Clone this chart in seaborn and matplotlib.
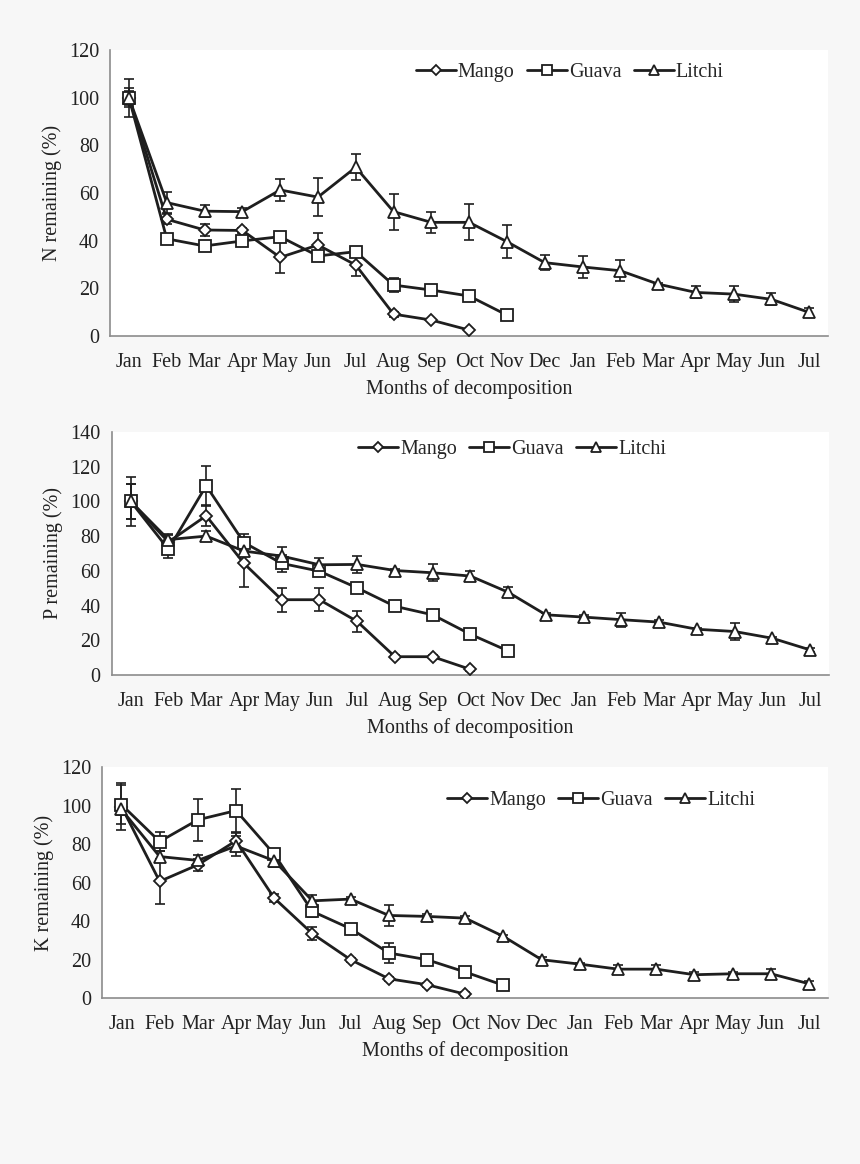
import numpy as np
import pandas as pd
import seaborn as sns
import matplotlib.pyplot as plt
from matplotlib.lines import Line2D

months = ["Jan", "Feb", "Mar", "Apr", "May", "Jun", "Jul", "Aug", "Sep", "Oct",
          "Nov", "Dec", "Jan", "Feb", "Mar", "Apr", "May", "Jun", "Jul"]

# N remaining (%)
n_mango = [100, 49, 44.5, 44.3, 33, 38.2, 29.8, 9.2, 6.7, 2.5]
n_mango_err = [4, 2, 2.5, 1, 6.5, 5, 4.5, 1, 0.5, 0.5]
n_guava = [100, 40.8, 37.8, 39.9, 41.7, 33.6, 35.4, 21.4, 19.3, 16.8, 8.8]
n_guava_err = [3, 1, 2, 2, 2, 2, 2, 3, 2, 2, 1.5]
n_litchi = [100, 56, 52.4, 52.2, 61.3, 58.3, 70.8, 52.2, 47.7, 47.7, 39.6, 30.8,
            29, 27.4, 21.8, 18.3, 17.6, 15.4, 9.9]
n_litchi_err = [8, 4.5, 2.5, 1.5, 4.5, 8, 5.5, 7.5, 4.5, 7.5, 7, 3, 4.5, 4.5,
                0.5, 2.5, 3.5, 2.5, 2]

# P remaining (%)
p_mango = [100, 76.6, 91.7, 64.3, 43.4, 43.4, 30.9, 10.6, 10.6, 3.3]
p_mango_err = [10, 4, 6, 13.5, 7, 6.5, 6, 1, 1, 1]
p_guava = [100, 72.4, 109, 76.3, 64.3, 59.8, 50.2, 39.6, 34.7, 23.5, 13.9]
p_guava_err = [14, 5, 11.5, 5, 5, 2, 3, 2, 2, 2, 2]
p_litchi = [100, 78, 80, 71.4, 68.5, 63.5, 63.7, 60.2, 58.9, 57, 47.7, 34.7,
            33.4, 31.9, 30.5, 26.4, 25.1, 21.2, 14.5]
p_litchi_err = [10, 3, 3, 3, 5, 4, 5, 1, 5, 3, 3, 1, 1, 4, 1, 1, 5, 1, 1]

# K remaining (%)
k_mango = [99.5, 60.6, 69.2, 81.7, 51.9, 33.4, 19.9, 10, 6.9, 2]
k_mango_err = [12, 11.5, 3, 4, 2, 3.5, 1, 1, 1, 1]
k_guava = [100.5, 81.3, 92.6, 97.4, 74.7, 45, 36, 23.4, 19.9, 13.5, 6.6]
k_guava_err = [10, 5, 11, 11, 2, 3, 1, 5, 1, 1.5, 1]
k_litchi = [98, 73.5, 71.5, 79, 71.3, 50.5, 51.4, 42.9, 42.4, 41.5, 32, 19.9,
            17.6, 15, 15, 12.1, 12.6, 12.6, 7.4]
k_litchi_err = [3, 3, 3, 5, 3, 3, 1, 5.5, 1, 1, 1, 1.5, 0.5, 2, 2, 1.5, 1, 2.5, 1.5]

fruits = ["Mango", "Guava", "Litchi"]
markers = {"Mango": "D", "Guava": "s", "Litchi": "^"}
msizes = {"Mango": 6.5, "Guava": 9, "Litchi": 9}

panels = [
    ("N remaining (%)", [(n_mango, n_mango_err), (n_guava, n_guava_err), (n_litchi, n_litchi_err)],
     120, 20, [0.128, 0.7113, 0.835, 0.2457], (0.64, 0.92)),
    ("P remaining (%)", [(p_mango, p_mango_err), (p_guava, p_guava_err), (p_litchi, p_litchi_err)],
     140, 20, [0.130, 0.420, 0.834, 0.209], (0.558, 0.926)),
    ("K remaining (%)", [(k_mango, k_mango_err), (k_guava, k_guava_err), (k_litchi, k_litchi_err)],
     120, 20, [0.119, 0.1426, 0.844, 0.1984], (0.687, 0.857)),
]

sns.set_style("white")
plt.rcParams["font.family"] = ["Liberation Serif", "DejaVu Serif"]
plt.rcParams["font.size"] = 14

line_col = "#1e1e1e"
axis_col = "#8c8c8c"
text_col = "#222222"

fig = plt.figure(figsize=(8.6, 11.64), dpi=100)
fig.patch.set_facecolor("#f7f7f7")

for ylabel, series, ymax, ystep, rect, leg_pos in panels:
    ax = fig.add_axes(rect)
    ax.set_facecolor("white")
    rows = []
    for fruit, (vals, errs) in zip(fruits, series):
        for i, (v, e) in enumerate(zip(vals, errs)):
            rows.append({"month": i, "value": v, "err": e, "fruit": fruit})
    df = pd.DataFrame(rows)

    for fruit in fruits:
        sub = df[df["fruit"] == fruit]
        ax.errorbar(sub["month"], sub["value"], yerr=sub["err"], fmt="none",
                    ecolor=line_col, elinewidth=1.2, capsize=3.5, capthick=1.2, zorder=2)
        sns.lineplot(data=sub, x="month", y="value", ax=ax, color=line_col,
                     linewidth=2, marker=markers[fruit], markersize=msizes[fruit],
                     markerfacecolor="white", markeredgecolor=line_col,
                     markeredgewidth=1.3, legend=False, zorder=3)

    ax.set_xlim(-0.5, len(months) - 0.5)
    ax.set_ylim(0, ymax)
    ax.set_yticks(np.arange(0, ymax + 1, ystep))
    ax.set_xticks(range(len(months)))
    ax.set_xticklabels(months, fontsize=14.5)
    ax.set_xticks(np.arange(-0.5, len(months), 1), minor=True)
    ax.tick_params(axis="x", which="major", length=0, pad=12, colors=text_col)
    ax.tick_params(axis="x", which="minor", length=6, width=1.2, color=axis_col, direction="out")
    ax.tick_params(axis="y", length=5, width=1.2, color=axis_col, labelsize=14.5,
                   labelcolor=text_col, direction="out", pad=3)
    for s in ["top", "right"]:
        ax.spines[s].set_visible(False)
    for s in ["left", "bottom"]:
        ax.spines[s].set_color(axis_col)
        ax.spines[s].set_linewidth(1.2)
    ax.set_xlabel("Months of decomposition", fontsize=14.5, color=text_col, labelpad=5)
    ax.set_ylabel(ylabel, fontsize=14.5, color=text_col, labelpad=5)

    handles = [Line2D([0], [0], color=line_col, linewidth=2, marker=markers[f],
                      markersize=msizes[f] * 0.85, markerfacecolor="white",
                      markeredgecolor=line_col, markeredgewidth=1.3) for f in fruits]
    ax.legend(handles, fruits, loc="center", bbox_to_anchor=leg_pos, ncol=3,
              frameon=False, fontsize=14.5, handlelength=2.0, handletextpad=0.1,
              columnspacing=0.6)

fig.savefig("out.png", dpi=100, facecolor=fig.get_facecolor())
